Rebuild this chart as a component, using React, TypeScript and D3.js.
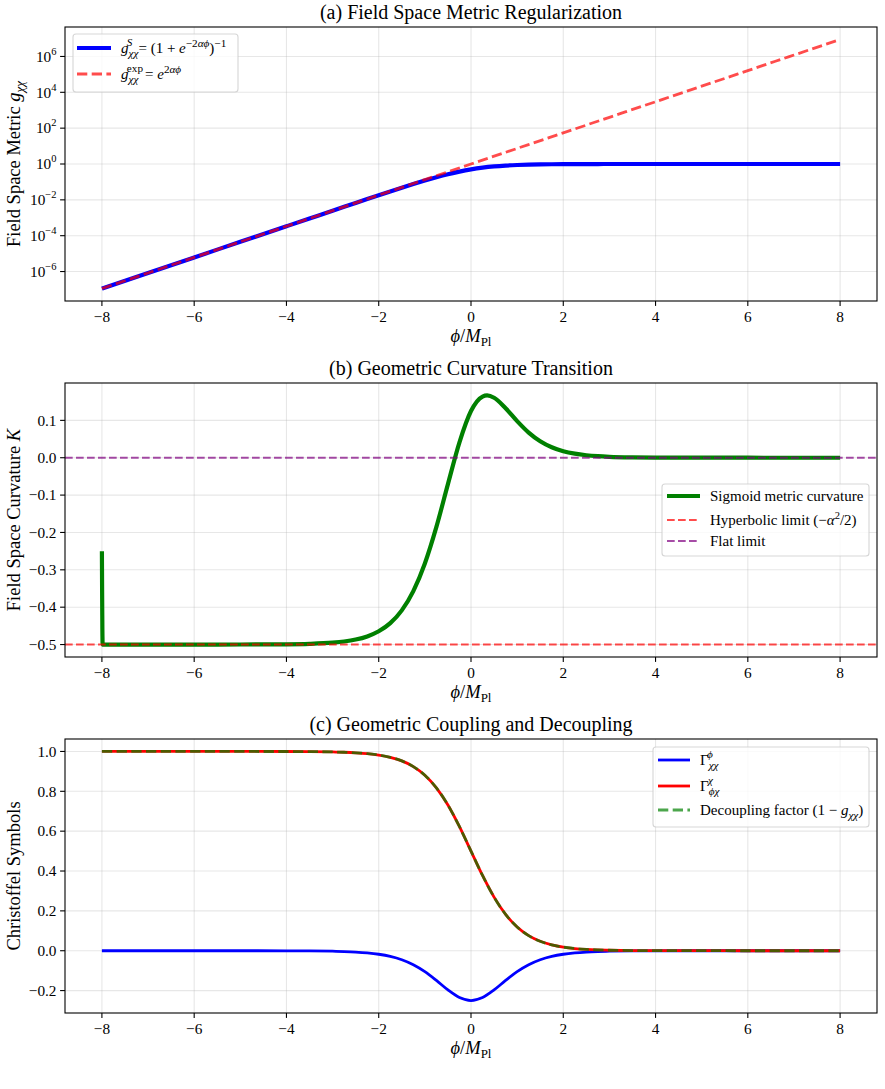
import React from "react";
import * as d3 from "d3";

// Field coordinate samples (denser through the transition region)
const PHI = [-8, -7, -6, -5, -4, -3.5, -3, -2.75, -2.5, -2.25, -2, -1.75, -1.5, -1.25, -1, -0.75, -0.5, -0.25, 0, 0.25, 0.5, 0.75, 1, 1.25, 1.5, 1.75, 2, 2.25, 2.5, 2.75, 3, 3.5, 4, 5, 6, 7, 8];

// (a) sigmoid-regularized metric component g_chichi
const G_SIGMOID = [1.125e-7, 8.315e-7, 6.144e-6, 4.54e-5, 3.354e-4, 9.11e-4, 2.473e-3, 4.07e-3, 6.693e-3, 1.0987e-2, 1.7986e-2, 2.9312e-2, 4.7426e-2, 7.5858e-2, 0.119203, 0.182426, 0.268941, 0.377541, 0.5, 0.622459, 0.731059, 0.817574, 0.880797, 0.924142, 0.952574, 0.970688, 0.982014, 0.989013, 0.993307, 0.99593, 0.997527, 0.999089, 0.999665, 0.999955, 0.999994, 0.999999, 1.0];

// (a) pure exponential metric
const PHI_INT = [-8, -7, -6, -5, -4, -3, -2, -1, 0, 1, 2, 3, 4, 5, 6, 7, 8];
const G_EXP = [1.125e-7, 8.315e-7, 6.144e-6, 4.54e-5, 3.355e-4, 2.479e-3, 1.832e-2, 0.1353, 1, 7.389, 54.6, 403.4, 2981, 22026, 162755, 1202604, 8886111];

// (b) Gaussian curvature of the sigmoid metric
const PHI_K = [-8, -7.984, -7, -6, -5, -4, -3.5, -3, -2.75, -2.5, -2.25, -2, -1.75, -1.5, -1.25, -1, -0.75, -0.5, -0.25, 0, 0.25, 0.35, 0.5, 0.75, 1, 1.25, 1.5, 1.75, 2, 2.25, 2.5, 2.75, 3, 3.5, 4, 5, 6, 7, 8];
const K_SIGMOID = [-0.25, -0.5, -0.5, -0.49998, -0.49991, -0.49933, -0.49818, -0.49506, -0.49188, -0.48668, -0.47821, -0.46451, -0.44266, -0.40852, -0.35692, -0.28291, -0.18507, -0.07061, 0.04128, 0.125, 0.16374, 0.16666, 0.16045, 0.13251, 0.09789, 0.06723, 0.04405, 0.02802, 0.0175, 0.01081, 0.00663, 0.00405, 0.00246, 0.00091, 0.00034, 0.00005, 0.00001, 0, 0];
const K_HYPERBOLIC = -0.5;
const K_FLAT = 0;

// (c) Christoffel symbols and decoupling factor
const GAMMA_PHI_CHICHI = [-1.1e-7, -8.3e-7, -6.1e-6, -4.5e-5, -3.35e-4, -9.1e-4, -0.002467, -0.004053, -0.006648, -0.010866, -0.017663, -0.028453, -0.045177, -0.070104, -0.104994, -0.149147, -0.196612, -0.235004, -0.25, -0.235004, -0.196612, -0.149147, -0.104994, -0.070104, -0.045177, -0.028453, -0.017663, -0.010866, -0.006648, -0.004053, -0.002467, -9.1e-4, -3.35e-4, -4.5e-5, -6.1e-6, -8.3e-7, -1.1e-7];
const GAMMA_CHI_PHICHI = [1.0, 0.999999, 0.999994, 0.999955, 0.999665, 0.999089, 0.997527, 0.99593, 0.993307, 0.989013, 0.982014, 0.970688, 0.952574, 0.924142, 0.880797, 0.817574, 0.731059, 0.622459, 0.5, 0.377541, 0.268941, 0.182426, 0.119203, 0.075858, 0.047426, 0.029312, 0.017986, 0.010987, 0.006693, 0.00407, 0.002473, 0.000911, 0.000335, 0.000045, 0.000006, 0.000001, 0];
const DECOUPLING = [1.0, 0.999999, 0.999994, 0.999955, 0.999665, 0.999089, 0.997527, 0.99593, 0.993307, 0.989013, 0.982014, 0.970688, 0.952574, 0.924142, 0.880797, 0.817574, 0.731059, 0.622459, 0.5, 0.377541, 0.268941, 0.182426, 0.119203, 0.075858, 0.047426, 0.029312, 0.017986, 0.010987, 0.006693, 0.00407, 0.002473, 0.000911, 0.000335, 0.000045, 0.000006, 0.000001, 0];

// Tick values
const X_TICKS = [-8, -6, -4, -2, 0, 2, 4, 6, 8];
const A_TICK_EXPONENTS = [-6, -4, -2, 0, 2, 4, 6];
const B_TICKS = [0.1, 0.0, -0.1, -0.2, -0.3, -0.4, -0.5];
const C_TICKS = [1.0, 0.8, 0.6, 0.4, 0.2, 0.0, -0.2];

const TITLES = ["(a) Field Space Metric Regularization", "(b) Geometric Curvature Transition", "(c) Geometric Coupling and Decoupling"];

const W = 885;
const H = 1089;
const LEFT = 65;
const RIGHT = 877;
const PANEL_TOPS = [27, 383, 739];
const PANEL_H = 274;
const FONT = "'Liberation Serif', 'DejaVu Serif', serif";
const TICK_FS = 15.3;
const TITLE_FS = 20;
const LABEL_FS = 18.5;
const LEG_FS = 15;
const SMALL = 10.5;
const LEG_SMALL = 11.2;
const GRID = "#b0b0b0";

const fmtMinus = (v: number, digits = 1) => {
  const s = Math.abs(v).toFixed(digits);
  return v < -1e-12 ? "\u2212" + s : s;
};

const x = d3.scaleLinear().domain([-8.8, 8.8]).range([LEFT, RIGHT]);

const yA = d3.scaleLog().domain([Math.pow(10, -7.644), Math.pow(10, 7.644)]).range([PANEL_TOPS[0] + PANEL_H, PANEL_TOPS[0]]);
const yB = d3.scaleLinear().domain([-0.53333, 0.2]).range([PANEL_TOPS[1] + PANEL_H, PANEL_TOPS[1]]);
const yC = d3.scaleLinear().domain([-0.3125, 1.0625]).range([PANEL_TOPS[2] + PANEL_H, PANEL_TOPS[2]]);

function linePath(xs: number[], ys: number[], yScale: (v: number) => number) {
  const gen = d3
    .line<number>()
    .x((_, i) => x(xs[i]))
    .y((d) => yScale(d))
    .curve(d3.curveMonotoneX);
  return gen(ys) || "";
}

function XLabel({ top }: { top: number }) {
  const cx = (LEFT + RIGHT) / 2;
  return (
    <text x={cx} y={top + PANEL_H + 41} fontSize={LABEL_FS} textAnchor="middle" fontFamily={FONT}>
      <tspan fontStyle="italic">ϕ</tspan>
      <tspan>/</tspan>
      <tspan fontStyle="italic">M</tspan>
      <tspan fontSize={13} dy={4}>Pl</tspan>
    </text>
  );
}

function Frame({ top, yTicks, yScale, yLabels }: { top: number; yTicks: number[]; yScale: (v: number) => number; yLabels: React.ReactNode[] }) {
  const bottom = top + PANEL_H;
  return (
    <g>
      <rect x={LEFT} y={top} width={RIGHT - LEFT} height={PANEL_H} fill="none" stroke="#000" strokeWidth={1.1} />
      {X_TICKS.map((t) => (
        <g key={"xt" + t}>
          <line x1={x(t)} x2={x(t)} y1={bottom} y2={bottom + 4.9} stroke="#000" strokeWidth={1.1} />
          <text x={x(t)} y={bottom + 20.5} fontSize={TICK_FS} textAnchor="middle" fontFamily={FONT}>
            {t < 0 ? "\u2212" + Math.abs(t) : String(t)}
          </text>
        </g>
      ))}
      {yTicks.map((t, i) => (
        <g key={"yt" + i}>
          <line x1={LEFT - 4.9} x2={LEFT} y1={yScale(t)} y2={yScale(t)} stroke="#000" strokeWidth={1.1} />
          <text x={LEFT - 8.5} y={yScale(t) + 5.2} fontSize={TICK_FS} textAnchor="end" fontFamily={FONT}>
            {yLabels[i]}
          </text>
        </g>
      ))}
    </g>
  );
}

function Grid({ top, yTicks, yScale }: { top: number; yTicks: number[]; yScale: (v: number) => number }) {
  const bottom = top + PANEL_H;
  return (
    <g stroke={GRID} strokeOpacity={0.3} strokeWidth={1.1}>
      {X_TICKS.map((t) => (
        <line key={"gx" + t} x1={x(t)} x2={x(t)} y1={top} y2={bottom} />
      ))}
      {yTicks.map((t, i) => (
        <line key={"gy" + i} x1={LEFT} x2={RIGHT} y1={yScale(t)} y2={yScale(t)} />
      ))}
    </g>
  );
}

function Title({ top, text }: { top: number; text: string }) {
  return (
    <text x={(LEFT + RIGHT) / 2} y={top - 8} fontSize={TITLE_FS} textAnchor="middle" fontFamily={FONT}>
      {text}
    </text>
  );
}

function LegendBox({ x0, y0, w, h }: { x0: number; y0: number; w: number; h: number }) {
  return <rect x={x0} y={y0} width={w} height={h} rx={3} ry={3} fill="#fff" fillOpacity={0.8} stroke="#cccccc" strokeOpacity={0.8} strokeWidth={1.1} />;
}

export default function App() {
  const topA = PANEL_TOPS[0];
  const topB = PANEL_TOPS[1];
  const topC = PANEL_TOPS[2];
  const aTicks = A_TICK_EXPONENTS.map((e) => Math.pow(10, e));
  const aLabels = A_TICK_EXPONENTS.map((e) => (
    <>
      <tspan>10</tspan>
      <tspan fontSize={SMALL} dy={-7}>
        {e < 0 ? "\u2212" + Math.abs(e) : String(e)}
      </tspan>
    </>
  ));
  const bLabels = B_TICKS.map((v) => fmtMinus(v));
  const cLabels = C_TICKS.map((v) => fmtMinus(v));

  const dashA = "10.3 4.4";
  const dashThin = "7.7 3.3";
  const chiW = 11.5; // width of the doubled chi subscript

  return (
    <svg width={W} height={H} viewBox={`0 0 ${W} ${H}`} style={{ position: "absolute", left: 0, top: 0, background: "#fff" }} fontFamily={FONT}>
      <rect x={0} y={0} width={W} height={H} fill="#fff" />

      {/* ---------- (a) metric ---------- */}
      <Grid top={topA} yTicks={aTicks} yScale={yA} />
      <path d={linePath(PHI, G_SIGMOID, yA)} fill="none" stroke="#0000ff" strokeWidth={4.2} />
      <path d={linePath(PHI_INT, G_EXP, yA)} fill="none" stroke="#ff0000" strokeOpacity={0.7} strokeWidth={2.8} strokeDasharray={dashA} />
      <Frame top={topA} yTicks={aTicks} yScale={yA} yLabels={aLabels} />
      <Title top={topA} text={TITLES[0]} />
      <XLabel top={topA} />
      <text transform={`translate(20, ${topA + PANEL_H / 2}) rotate(-90)`} fontSize={LABEL_FS} textAnchor="middle">
        <tspan>Field Space Metric </tspan>
        <tspan fontStyle="italic">g</tspan>
        <tspan fontStyle="italic" fontSize={13} dy={4}>χχ</tspan>
      </text>
      <LegendBox x0={73} y0={34} w={165} h={58} />
      <line x1={77} x2={111} y1={48} y2={48} stroke="#0000ff" strokeWidth={4.2} />
      <line x1={77} x2={111} y1={74} y2={74} stroke="#ff0000" strokeOpacity={0.7} strokeWidth={2.8} strokeDasharray={dashA} />
      <text x={121} y={53} fontSize={LEG_FS}>
        <tspan fontStyle="italic">g</tspan>
        <tspan fontStyle="italic" fontSize={LEG_SMALL} dy={3.5}>χχ</tspan>
        <tspan fontStyle="italic" fontSize={LEG_SMALL} dx={-chiW} dy={-11}>S</tspan>
        <tspan dx={6} dy={7.5}>{"= (1 + "}</tspan>
        <tspan fontStyle="italic">e</tspan>
        <tspan fontSize={LEG_SMALL} dy={-6.5}>−2</tspan>
        <tspan fontSize={LEG_SMALL} fontStyle="italic">αϕ</tspan>
        <tspan dy={6.5}>)</tspan>
        <tspan fontSize={LEG_SMALL} dy={-6.5}>−1</tspan>
      </text>
      <text x={121} y={79} fontSize={LEG_FS}>
        <tspan fontStyle="italic">g</tspan>
        <tspan fontStyle="italic" fontSize={LEG_SMALL} dy={3.5}>χχ</tspan>
        <tspan fontSize={LEG_SMALL} dx={-chiW} dy={-11}>exp</tspan>
        <tspan dx={2} dy={7.5}>{"= "}</tspan>
        <tspan fontStyle="italic">e</tspan>
        <tspan fontSize={LEG_SMALL} dy={-6.5}>2</tspan>
        <tspan fontSize={LEG_SMALL} fontStyle="italic">αϕ</tspan>
      </text>

      {/* ---------- (b) curvature ---------- */}
      <Grid top={topB} yTicks={B_TICKS} yScale={yB} />
      <path d={linePath(PHI_K, K_SIGMOID, yB)} fill="none" stroke="#008000" strokeWidth={4.2} />
      <line x1={LEFT} x2={RIGHT} y1={yB(K_HYPERBOLIC)} y2={yB(K_HYPERBOLIC)} stroke="#ff0000" strokeOpacity={0.7} strokeWidth={2.1} strokeDasharray={dashThin} />
      <line x1={LEFT} x2={RIGHT} y1={yB(K_FLAT)} y2={yB(K_FLAT)} stroke="#800080" strokeOpacity={0.7} strokeWidth={2.1} strokeDasharray={dashThin} />
      <Frame top={topB} yTicks={B_TICKS} yScale={yB} yLabels={bLabels} />
      <Title top={topB} text={TITLES[1]} />
      <XLabel top={topB} />
      <text transform={`translate(20, ${topB + PANEL_H / 2}) rotate(-90)`} fontSize={LABEL_FS} textAnchor="middle">
        <tspan>Field Space Curvature </tspan>
        <tspan fontStyle="italic">K</tspan>
      </text>
      <LegendBox x0={662} y0={484} w={207} h={72} />
      <line x1={667} x2={700} y1={496} y2={496} stroke="#008000" strokeWidth={4.2} />
      <line x1={667} x2={700} y1={520} y2={520} stroke="#ff0000" strokeOpacity={0.7} strokeWidth={2.1} strokeDasharray={dashThin} />
      <line x1={667} x2={700} y1={541} y2={541} stroke="#800080" strokeOpacity={0.7} strokeWidth={2.1} strokeDasharray={dashThin} />
      <text x={710} y={501} fontSize={LEG_FS}>Sigmoid metric curvature</text>
      <text x={710} y={525} fontSize={LEG_FS}>
        <tspan>{"Hyperbolic limit (\u2212"}</tspan>
        <tspan fontStyle="italic">α</tspan>
        <tspan fontSize={SMALL} dy={-6.5}>2</tspan>
        <tspan dy={6.5}>/2)</tspan>
      </text>
      <text x={710} y={546} fontSize={LEG_FS}>Flat limit</text>

      {/* ---------- (c) Christoffel symbols ---------- */}
      <Grid top={topC} yTicks={C_TICKS} yScale={yC} />
      <path d={linePath(PHI, GAMMA_PHI_CHICHI, yC)} fill="none" stroke="#0000ff" strokeWidth={2.8} />
      <path d={linePath(PHI, GAMMA_CHI_PHICHI, yC)} fill="none" stroke="#ff0000" strokeWidth={2.8} />
      <path d={linePath(PHI, DECOUPLING, yC)} fill="none" stroke="#008000" strokeOpacity={0.7} strokeWidth={2.8} strokeDasharray={dashA} />
      <Frame top={topC} yTicks={C_TICKS} yScale={yC} yLabels={cLabels} />
      <Title top={topC} text={TITLES[2]} />
      <XLabel top={topC} />
      <text transform={`translate(20, ${topC + PANEL_H / 2}) rotate(-90)`} fontSize={LABEL_FS} textAnchor="middle">
        Christoffel Symbols
      </text>
      <LegendBox x0={653} y0={747} w={216} h={80} />
      <line x1={658} x2={690} y1={760} y2={760} stroke="#0000ff" strokeWidth={2.8} />
      <line x1={658} x2={690} y1={786} y2={786} stroke="#ff0000" strokeWidth={2.8} />
      <line x1={658} x2={690} y1={810} y2={810} stroke="#008000" strokeOpacity={0.7} strokeWidth={2.8} strokeDasharray={dashA} />
      <text x={700} y={765} fontSize={LEG_FS}>
        <tspan>Γ</tspan>
        <tspan fontStyle="italic" fontSize={LEG_SMALL} dy={3.5}>χχ</tspan>
        <tspan fontStyle="italic" fontSize={LEG_SMALL} dx={-chiW} dy={-11}>ϕ</tspan>
      </text>
      <text x={700} y={791} fontSize={LEG_FS}>
        <tspan>Γ</tspan>
        <tspan fontStyle="italic" fontSize={LEG_SMALL} dy={3.5}>ϕχ</tspan>
        <tspan fontStyle="italic" fontSize={LEG_SMALL} dx={-chiW} dy={-11}>χ</tspan>
      </text>
      <text x={700} y={815} fontSize={LEG_FS}>
        <tspan>{"Decoupling factor (1 \u2212 "}</tspan>
        <tspan fontStyle="italic">g</tspan>
        <tspan fontStyle="italic" fontSize={LEG_SMALL} dy={3.5}>χχ</tspan>
        <tspan dy={-3.5}>)</tspan>
      </text>
    </svg>
  );
}
